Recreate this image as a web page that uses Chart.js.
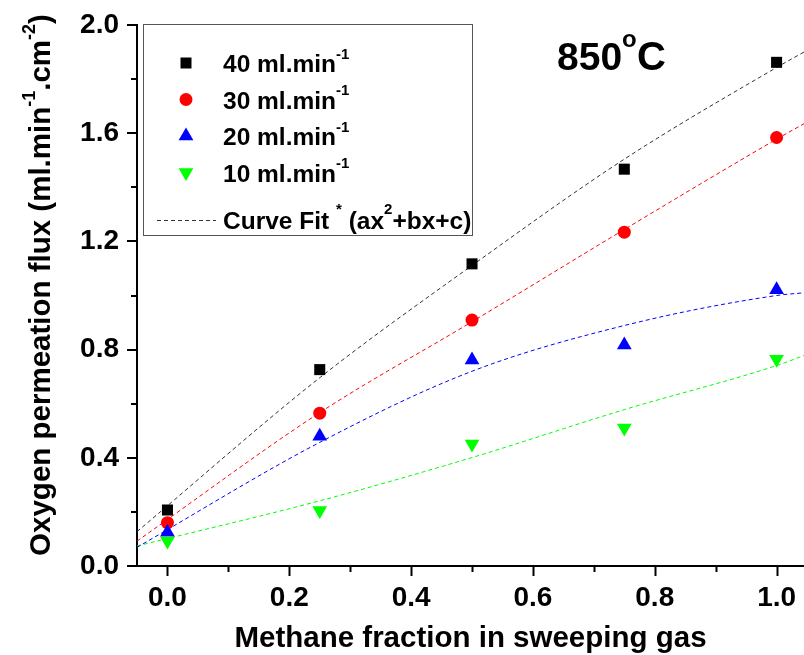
<!DOCTYPE html>
<html>
<head>
<meta charset="utf-8">
<script src="https://cdn.jsdelivr.net/npm/chart.js@4.4.1/dist/chart.umd.min.js"></script>
<style>
  html, body { margin: 0; padding: 0; background: #fff; overflow: hidden; }
  #wrap { position: relative; width: 804px; height: 655px; }
</style>
</head>
<body>
<div id="wrap"><canvas id="chart" width="804" height="655"></canvas></div>
<script>
// measured points
const fractions = [0, 0.25, 0.5, 0.75, 1.0];
const flux40 = [0.207, 0.726, 1.117, 1.467, 1.862];
const flux30 = [0.160, 0.565, 0.909, 1.234, 1.584];
const flux20 = [0.125, 0.480, 0.762, 0.817, 1.021];
const flux10 = [0.092, 0.205, 0.451, 0.510, 0.764];

// fit curves
const fitX = [-0.05, 0.25, 0.5, 0.75, 1.0, 1.045];
const fit40 = [0.127, 0.696, 1.111, 1.504, 1.843, 1.900];
const fit30 = [0.092, 0.567, 0.903, 1.244, 1.578, 1.635];
const fit20 = [0.069, 0.457, 0.720, 0.889, 1.000, 1.010];
const fit10 = [0.074, 0.241, 0.401, 0.578, 0.741, 0.778];

const xTicks = [0, 0.1, 0.2, 0.3, 0.4, 0.5, 0.6, 0.7, 0.8, 0.9, 1.0];
const xTickLabels = ['0.0', '', '0.2', '', '0.4', '', '0.6', '', '0.8', '', '1.0'];
const yTicks = [0, 0.2, 0.4, 0.6, 0.8, 1.0, 1.2, 1.4, 1.6, 1.8, 2.0];
const yTickLabels = ['0.0', '', '0.4', '', '0.8', '', '1.2', '', '1.6', '', '2.0'];

const seriesNames = ['40 ml.min', '30 ml.min', '20 ml.min', '10 ml.min'];
const seriesColors = ['#000000', '#ff0000', '#0000ff', '#00ff00'];
const pointStyles = ['rect', 'circle', 'triangle', 'triangle'];
const pointSizes = [7.8, 6.5, 8.5, 8.5];
const pointRotations = [0, 0, 0, 180];

const FONT = '"Liberation Sans", Arial, Helvetica, sans-serif';

const toXY = (xs, ys) => xs.map((x, i) => ({ x: x, y: ys[i] }));
const fluxes = [flux40, flux30, flux20, flux10];
const fits = [fit40, fit30, fit20, fit10];

const datasets = [];
fluxes.forEach((f, i) => {
  datasets.push({
    label: seriesNames[i],
    data: toXY(fractions, f),
    showLine: false,
    pointStyle: pointStyles[i],
    pointRadius: pointSizes[i],
    rotation: pointRotations[i],
    backgroundColor: seriesColors[i],
    borderColor: seriesColors[i],
    borderWidth: 0,
    order: 3 - i
  });
});
fits.forEach((f, i) => {
  datasets.push({
    label: 'fit ' + seriesNames[i],
    data: toXY(fitX, f),
    showLine: true,
    pointRadius: 0,
    borderColor: i === 0 ? '#333333' : seriesColors[i],
    borderWidth: 1,
    borderDash: [4, 3],
    cubicInterpolationMode: 'monotone',
    fill: false,
    order: 10 + i
  });
});

// draws text with superscript parts: [[text, isSup], ...]
function drawRich(ctx, parts, x, y, size, align, supScale, supRise) {
  const supSize = Math.round(size * supScale);
  let total = 0;
  const widths = parts.map(([t, sup]) => {
    ctx.font = `bold ${sup ? supSize : size}px ${FONT}`;
    const w = ctx.measureText(t).width;
    total += w;
    return w;
  });
  let cx = align === 'center' ? x - total / 2 : x;
  ctx.textAlign = 'left';
  ctx.textBaseline = 'alphabetic';
  parts.forEach(([t, sup], i) => {
    ctx.font = `bold ${sup ? supSize : size}px ${FONT}`;
    ctx.fillText(t, cx, sup ? y - size * supRise : y);
    cx += widths[i];
  });
}

function drawMarker(ctx, i, x, y) {
  ctx.fillStyle = seriesColors[i];
  ctx.beginPath();
  if (i === 0) {
    ctx.rect(x - 5.5, y - 5.5, 11, 11);
  } else if (i === 1) {
    ctx.arc(x, y, 6.5, 0, Math.PI * 2);
  } else if (i === 2) {
    ctx.moveTo(x, y - 8.5); ctx.lineTo(x + 7.4, y + 4.3); ctx.lineTo(x - 7.4, y + 4.3);
  } else {
    ctx.moveTo(x, y + 8.5); ctx.lineTo(x + 7.4, y - 4.3); ctx.lineTo(x - 7.4, y - 4.3);
  }
  ctx.closePath();
  ctx.fill();
}

const decor = {
  id: 'decor',
  afterDraw(chart) {
    const ctx = chart.ctx;
    const xs = chart.scales.x, ys = chart.scales.y;
    const area = chart.chartArea;
    ctx.save();
    ctx.strokeStyle = '#000';
    ctx.lineWidth = 2;
    // ticks (major long, minor short)
    xTicks.forEach((v, i) => {
      const px = Math.round(xs.getPixelForValue(v)) + 0.5;
      const len = xTickLabels[i] ? 10 : 6;
      ctx.beginPath(); ctx.moveTo(px, area.bottom); ctx.lineTo(px, area.bottom + len); ctx.stroke();
    });
    yTicks.forEach((v, i) => {
      const py = Math.round(ys.getPixelForValue(v));
      const len = yTickLabels[i] ? 10 : 6;
      ctx.beginPath(); ctx.moveTo(area.left, py); ctx.lineTo(area.left - len, py); ctx.stroke();
    });

    ctx.fillStyle = '#000';
    // x title
    drawRich(ctx, [['Methane fraction in sweeping gas', false]], (area.left + area.right) / 2, 647, 29.5, 'center', 0.6, 0.5);
    // y title
    ctx.save();
    ctx.translate(50, 285);
    ctx.rotate(-Math.PI / 2);
    drawRich(ctx, [['Oxygen permeation flux (ml.min', false], ['-1', true], ['.cm', false], ['-2', true], [')', false]],
      0, 0, 29.5, 'center', 0.6, 0.5);
    ctx.restore();

    // temperature label
    drawRich(ctx, [['850', false]], 557, 70, 39, 'left', 0.6, 0.5);
    ctx.font = `bold 24px ${FONT}`;
    ctx.fillText('o', 622, 47);
    ctx.font = `bold 40px ${FONT}`;
    ctx.fillText('C', 637, 70);

    // legend box
    ctx.lineWidth = 1;
    ctx.strokeStyle = '#555';
    ctx.strokeRect(143.5, 24.5, 329, 211);
    const rowY = [72, 108.5, 145, 181.5];
    seriesNames.forEach((name, i) => {
      drawMarker(ctx, i, 186, rowY[i] - 9);
      ctx.fillStyle = '#000';
      drawRich(ctx, [[name, false], ['-1', true]], 223, rowY[i], 24.5, 'left', 0.6, 0.55);
    });
    ctx.strokeStyle = '#333';
    ctx.setLineDash([4, 3]);
    ctx.beginPath(); ctx.moveTo(157, 220.5); ctx.lineTo(216, 220.5); ctx.stroke();
    ctx.setLineDash([]);
    drawRich(ctx, [['Curve Fit ', false], ['*', true], [' (ax', false], ['2', true], ['+bx+c)', false]],
      223, 229, 24.5, 'left', 0.6, 0.6);
    ctx.restore();
  }
};

new Chart(document.getElementById('chart'), {
  type: 'scatter',
  data: { datasets: datasets },
  options: {
    responsive: false,
    animation: false,
    events: [],
    layout: { autoPadding: false, padding: { top: 25, right: 0, left: 0, bottom: 0 } },
    plugins: { legend: { display: false }, tooltip: { enabled: false } },
    scales: {
      x: {
        type: 'linear',
        min: -0.05,
        max: 1.045,
        afterBuildTicks: s => { s.ticks = xTicks.map(v => ({ value: v })); },
        afterFit: s => { s.height = 89; s.paddingLeft = 0; s.paddingRight = 0; },
        border: { display: true, color: '#000', width: 2 },
        grid: { display: true, drawOnChartArea: false, drawTicks: true, tickLength: 10, tickColor: 'rgba(0,0,0,0)' },
        ticks: {
          autoSkip: false, maxRotation: 0, padding: 5, color: '#000',
          font: { family: FONT, size: 28, weight: 'bold' },
          callback: (v, i) => xTickLabels[i]
        }
      },
      y: {
        type: 'linear',
        min: 0,
        max: 2.0,
        afterBuildTicks: s => { s.ticks = yTicks.map(v => ({ value: v })); },
        afterFit: s => { s.width = 137; s.paddingTop = 0; s.paddingBottom = 0; },
        border: { display: true, color: '#000', width: 2 },
        grid: { display: true, drawOnChartArea: false, drawTicks: true, tickLength: 10, tickColor: 'rgba(0,0,0,0)' },
        ticks: {
          autoSkip: false, padding: 8, color: '#000',
          font: { family: FONT, size: 28, weight: 'bold' },
          callback: (v, i) => yTickLabels[i]
        }
      }
    }
  },
  plugins: [decor]
});
</script>
</body>
</html>
